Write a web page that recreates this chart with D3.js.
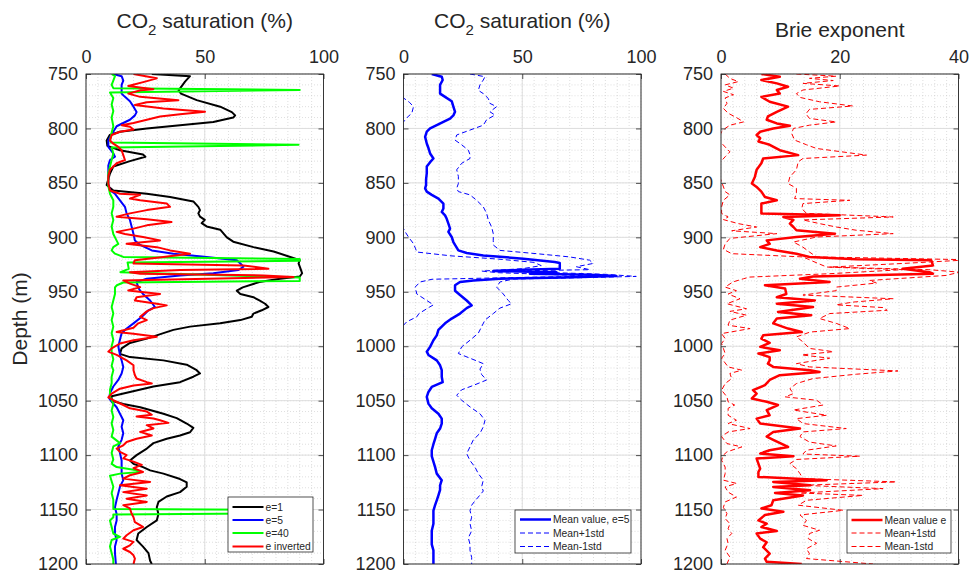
<!DOCTYPE html>
<html>
<head>
<meta charset="utf-8">
<script src="https://cdn.jsdelivr.net/npm/d3@7"></script>
<style>
    body { margin: 0; background: #fff; }
    svg { font-family: "Liberation Sans", Arial, Helvetica, sans-serif; }
</style>
</head>
<body>
<svg id="chart" width="969" height="575"></svg>
<script>
// ---- data (depth in m, values in % or exponent) ----
const depthTicks = [750, 800, 850, 900, 950, 1000, 1050, 1100, 1150, 1200];
const satTicks = [0, 50, 100];
const brieTicks = [0, 20, 40];

// panel 1: CO2 saturation for several exponents
const e1Depth = [750,752,757,765,768,774,780,785,788,790,794,797,800,803,806,811,816,820,824,826,830,835,842,852,857,860,863,867,872,875,878,881,884,887,890,893,900,904,909,913,918,921,924,928,933,936,938,941,946,949,952,955,958,961,964,967,970,973,976,979,982,985,988,993,997,1002,1007,1010,1013,1017,1022,1025,1028,1033,1037,1042,1046,1050,1053,1056,1062,1066,1071,1075,1079,1082,1085,1089,1094,1100,1105,1108,1111,1114,1117,1122,1125,1129,1134,1138,1143,1148,1154,1160,1166,1172,1178,1184,1190,1197,1200];
const e1Sat = [27.7,43.8,41.7,39,40,46.6,56.5,61.4,62.8,62,53.6,39.6,25.6,14.3,10,8.7,9,14.3,24,25,18.5,11.5,10,8.7,11.5,25.6,35.4,45.2,47.3,48,47.3,48,50,48.7,50.8,56.5,59.3,62,70.5,79,86,90,89.5,90.2,91,90,81.7,73,66,63.5,65,70.5,73,75.4,76.8,74,70.5,69.8,65,56.5,43.8,36.8,32.6,25.6,18.5,15,14.3,18.5,32.6,42.4,46.6,48,45.2,39.6,28.4,18.5,10.8,10.8,15.7,22.8,32.6,38.2,42.4,45.2,43.8,39.6,34,28.4,25.6,21.3,18.5,20,24,27,32.6,39.6,42.4,42.4,39.6,34,30.5,29.8,30.5,29.8,25.6,22,21.3,24,26.3,27,27.7];

const e5Depth = [750,752,756,760,765,768,771,775,780,785,788,792,795,798,803,808,811,817,823,826,829,834,840,846,851,857,860,866,872,878,884,890,897,903,907,912,915,918,921,924,927,930,933,935,938,941,946,949,952,958,964,967,973,979,984,988,994,1000,1008,1013,1019,1025,1031,1037,1043,1048,1051,1056,1062,1068,1074,1080,1086,1092,1098,1105,1111,1117,1123,1129,1135,1141,1148,1154,1160,1166,1172,1178,1184,1190,1200];
const e5Sat = [11.5,15,15.7,15,15,15,16.4,18.5,20,21.3,20.6,18.5,15.7,12.9,11.5,10.1,9.4,9.4,11.5,12.2,10.1,9.4,9.4,9.4,9.4,10.1,12.2,14.3,16.4,17.1,18.5,19.2,20,20.6,22.8,27.7,36.8,50.8,63.5,65,66.3,64.2,53.6,39.6,25.6,21.3,22,22.8,24,27,29,26.3,23.5,20,17,15,14.3,13.6,14.3,15,15.7,15,13.6,11.5,10.1,9.8,10.8,12.9,14.3,15.7,15,15.7,15,13.6,14.3,15,15,15,15.7,14.3,13.6,12.9,12.2,12.9,12.9,12.2,12.2,12.9,12.2,12.2,12.6];

const e40Depth = [750,752,756,760,763,764.7,767,772,778,784,790,798,804,811,813,815,817.5,823,829,835,841,847,853,860,866,872,878,884,890,897,903,906,909,912,915,918,920,921.5,923,929,932,937,940,941.5,944,946,952,958,964,970,976,982,988,994,1000,1006,1012,1018,1022,1028,1034,1040,1046,1053,1059,1065,1071,1077,1083,1089,1092,1098,1104,1108,1111,1114,1115.5,1117,1119,1124,1129,1135,1141,1148,1149.5,1150.5,1153.5,1154.5,1157,1160,1166,1172,1175,1178,1184,1190,1196,1200];
const e40Sat = [10.8,12.2,11.5,10.8,11.5,90,10.1,11.5,10.8,11.5,10.8,11.5,10.8,10.1,10.5,89.5,10.8,11.5,10.8,10.1,9.4,9.4,9.4,10.1,11.5,11.5,10.8,11.5,10.8,11.5,12.9,13.6,11.5,10.8,12.2,15.7,90,90,17.5,18,14.5,90,90,15.7,13,12.2,12.2,11.5,10.8,11.5,10.8,11.5,10.8,11.5,10.8,10.8,11.5,10.8,11.5,10.8,10.8,10.1,10.1,11.5,10.8,11.5,10.8,11.5,10.8,14.3,11.5,10.8,11.5,10.8,12.9,21.3,22.8,14.3,10.1,10.8,11.5,10.8,11.5,11.5,11.5,90,90,11.5,11.5,10.1,10.8,11.5,14.3,10.8,10.1,10.8,11.5,11.5];

const invDepth = [750,754,757,761,764,765,768,771,774,776,778.5,781.6,784.7,787,789,792,795,797,798.5,801,803,806,811,814,817,820,824.5,829,832,838,844,850.6,857,860,861,864.4,866,869,872,875,878,881,883.5,886,889,892,895,897,899.7,902.8,906,909,912,915,918,921,924,925.8,928.8,930,932,933.5,935,936.5,939.6,942.5,945.7,948.8,952,955,958,961,962.5,965,968,973,976,979,983,987,988.5,991.4,994.5,997.5,1002,1005,1008,1013,1017.5,1022,1026.6,1029.7,1033,1034.3,1036,1039,1043.5,1047,1049.6,1054,1057,1060,1063,1064.6,1066.3,1068,1070.4,1072.5,1075.5,1078.7,1082,1085,1088,1091,1094,1097,1100,1103,1106,1109,1112,1115.5,1118.5,1121.6,1124.6,1127.7,1130.8,1134,1137,1140,1143,1146,1149,1153.7,1157,1161.6,1166,1169,1173.6,1176.7,1179.7,1182.8,1186,1189,1192,1195,1200];
const invSat = [20,29.8,24.9,17.8,28.4,23,17.8,22.8,38.9,25.6,20.6,32.6,50.1,39.6,31.2,25.6,20,15,18.5,20,14.3,10.8,10.1,11.5,13.6,15,15.7,16.4,12.9,10.1,9.4,9.4,10.1,14.3,22.8,18.5,22.8,34,35.4,25.6,18.5,12.9,25.6,36,25.6,20,12.9,16.4,24,31.2,17.1,29.8,35.4,43.8,32.6,20.6,20,66.3,76.8,39.6,18.5,22.8,74.7,87.4,15.7,18.5,22.8,17.8,31.2,21.3,20.6,29.8,34,28.4,25.6,22.8,25.6,22,20,12.9,20,29.8,20,14.3,10.8,9.4,12.9,17.1,20,20,20.6,21.3,25.6,27.7,20,14.3,10.8,9.4,11.5,15.7,18.5,25.6,27.7,21.3,28.4,31.2,34.7,25.6,28.4,22.8,27.7,21.3,17.1,15.7,12.9,14.3,17.1,15.7,20,23.5,20,24,18.5,15.7,27,14.3,25.6,15.7,25.6,17.1,25.6,15.7,18.5,19.2,20,20.6,24,20,17.1,15.7,20,18.5,15.7,18.5,20,20.6,20];

// panel 2: mean saturation (e=5) and +/- one standard deviation
const meanDepth = [750,752.5,755.5,760,765,768,771,775,780,784.7,788,791,794,797,800,803,807.7,813.8,818,823,827.6,831,835,841,847,852,855,858,861,864.4,869,873.5,876.7,879.8,883,887.4,892,895,899.7,904.3,907,912,914.4,916.6,919.6,922.7,923.6,928.8,929.7,931,932,933.4,934.4,935.6,937,938,939.6,941,944,949,953,958,962.5,965,970,974.6,979,985,990,994.5,1000.6,1005,1008,1013,1017.5,1022,1028,1033,1037.4,1042,1046.5,1052.7,1057,1062,1066.5,1071,1075.6,1080,1085,1090,1095.5,1101,1106,1111,1117,1123,1127.7,1132,1136.9,1141.5,1146,1151,1157,1163,1169.5,1176,1182,1187.5,1194,1200];
const meanSat = [11.9,16.1,16.5,15.4,15.4,15.4,17.5,20.3,21,21.7,21,19.6,16.8,14,11.2,9.8,9.1,9.8,10.5,11.2,12.6,11.2,9.8,9.8,9.5,9.5,9.1,9.8,11.9,14.7,16.8,16.8,16.1,17.5,18.2,18.9,19.6,18.9,20.3,21,21.7,23.1,26.6,33.6,50.4,63.7,65.8,65.8,50.4,37.8,64.4,53.2,78.4,89.6,67.2,40.6,29.4,23.8,21.7,21.7,23.8,26.6,28.7,26.6,23.8,20.3,17.5,14.7,14,12.6,11.2,9.8,10.5,14,15.4,16.1,16.1,16.5,11.9,10.5,9.8,10.5,11.9,14.7,16.1,16.1,15.4,14,13.3,12.6,11.9,11.9,12.6,13.3,14,16.1,15.4,15.4,14.7,14,13.3,12.6,12.6,12.6,11.9,11.9,11.9,12.6,12.6,12.6];

const plusDepth = [750,752.5,755.5,760,765,768,772.5,777,780,784.7,787.7,792,797,801.5,806,810.7,815,820,824,827.6,832,838,844,850.6,855,858,861,866,872,878,884,890.5,896.6,902.8,907,912,915,918,921,924,927,929.7,931,932,934,935.9,937,938.3,941,945.7,952,958,961,965,970,976,982,988,994.5,1000.6,1006.7,1011,1016,1021,1026,1031,1036,1040,1045,1049.6,1055.7,1062,1068,1074,1080,1086,1092.5,1098.6,1105,1111,1117,1123,1129,1133,1138.5,1142,1146,1151,1157,1163,1169.5,1176,1182,1187.5,1194,1200];
const plusSat = [28,34.3,33.6,32.2,31.5,33.6,35.7,36.4,39.2,36.4,38.5,35,33.6,28,22.4,21.7,24.5,27.3,28,28,24.5,22.4,23.1,23.1,22.4,23.1,28,30.8,33.6,35,35.7,37.1,37.8,37.8,37.8,40.6,56,70,78.4,79.8,72.8,78.4,42,57.4,85.4,98,75.6,46.2,40.6,39.2,42,44.1,45.5,40.6,37.8,34.3,32.9,31.5,28,24.5,23.1,28,33.6,32.2,32.9,35,29.4,24.5,22.4,24.5,28,32.2,34.3,33.6,32.2,29.4,28,26.6,28,30.1,31.5,33.6,32.9,33.6,31.5,30.1,28.7,28,28.7,28,28.7,27.3,28,28,28.7,28.7];

const minusDepth = [750,760,766,772,776,780,786,790,794,800,810,820,830,840,850,860,866,870.5,876,882,887,892,896,899.7,905.8,910,913.5,917,920,923,926,928.8,931,932.5,934,935.6,937,938.5,941,945.7,952,958,962,964,970,973,977.5,980.7,986,994,1000,1010,1016,1022,1028,1034,1040,1050,1060,1070,1080,1090,1100,1110,1120,1130,1140,1150,1160,1170,1180,1190,1200];
const minusSat = [-4,-1.5,-1,0,2.5,4.2,3.5,1.5,0,-5,-3.5,-5,-2,-4,-4,-3,-1,0,-1,-0.5,-1,0,1,2.1,4.2,5,5.6,20,40,55,58,50,33,40,60,80,45,12,7,4.9,5.6,9.8,12.6,11,6.5,5.6,1.4,0,-1,-2.5,-2,-3,-1.5,0,0,-2,-3.5,-4,-3,-2.5,-4,-2.5,-3,-2.5,-2,-2.5,-2.5,-2.5,-3,-4.5,-4,-3,-3.4];

// panel 3: Brie exponent, mean and +/- one standard deviation
const brieDepth = [750,752.5,755.5,758.6,761.7,764.7,768,771,775.5,780,784.7,789,792,795.4,797.5,800,803,806,809,812,815,820,824.5,827.6,832,838,844.5,850.6,853.7,858,863,866,869,873.5,878,879.8,881.3,884,887.4,890.5,893.5,896.6,899.7,902.8,906,909,912,915,918,920.2,921,925.8,928.8,932,933.4,936,938,941,944,947,952,955,958,961,964,968.5,971.5,974.6,979,983.8,987,990,993,997,1000.6,1003.7,1006.7,1010,1013,1016,1019,1022,1023.6,1026.6,1031,1035.8,1040.4,1043.5,1048,1051,1054,1058.6,1063.4,1066.5,1071,1075.6,1078.7,1083,1086,1092.5,1095.5,1098.6,1101,1103.2,1107.8,1112.4,1115.5,1120,1123,1124.6,1127.7,1129.2,1132.3,1134.8,1137,1141.5,1146,1149,1152,1155,1160,1163,1166,1169.7,1172,1176.7,1180,1184.6,1190.5,1195,1198,1200];
const brieVal = [6.8,9.9,6.8,9.4,11.3,9.4,9.9,6.8,8.2,11.3,9.4,7.9,7.7,9.4,11.6,8.8,6.6,6,6.6,6.3,8.2,9.9,13,7.1,6.8,6,5.7,5.2,6,6.8,7.4,9.4,6.8,6.8,6.8,20,10.5,12.2,11.6,12.2,12.7,19.2,12.7,7.7,8.2,6.6,9.4,12.7,14.9,22.8,35.4,35.7,30.6,35.1,35.7,15.5,13.3,18.3,7.4,10.8,11,9.4,15.8,9.4,15.5,9.6,15.2,9.4,8.8,11.3,13.6,7.1,6.8,8.2,6.6,9.9,6.3,8.2,8.2,7.9,8.8,15,16.6,9.9,8.2,7.4,5.4,6,5.2,7.7,9.6,7.7,8.2,6,6.6,13.3,8.8,7.7,8.8,11.3,8.2,6.6,12.2,6,6.3,6.6,6.3,6.3,17.8,8.8,15,8.8,15,9.1,13.8,8.8,8.5,6.8,10.5,7.4,6.3,7.7,6.8,9.4,6,6.6,7.7,7.1,8.2,7.4,7.7,13.6];

const briePlusDepth = [750,752,754,756,758.6,761,764.7,768,771.5,775.5,779.4,782.5,786.6,790.8,794,797,800,804.6,810.7,815,818.4,824.5,827.6,830.7,838,844.5,850.6,855,859.5,864.4,866,869,873.5,878,881.3,884,887.4,890.5,893.5,896.6,899.7,904.3,909,913.5,918,920.6,924,927.3,929.7,932,935,939.6,942,945.7,949,953,956.4,959.5,962,964.5,967,970,974.6,979,983.8,987,991.4,996,1002,1005,1008,1011,1016,1019,1022.7,1025.7,1029.7,1034.3,1039,1043.5,1046.5,1049.6,1054,1058.6,1063.4,1066.5,1071,1075.6,1078.7,1083,1088,1091.6,1095.5,1099,1101,1104,1107.8,1112.4,1117,1121.6,1124.6,1127.7,1130.8,1134.8,1137,1141.5,1146,1150.7,1155,1160,1164.5,1169,1172,1176.7,1181,1186,1190.5,1195,1200];
const briePlusVal = [12.7,19.4,14.9,18.9,13.8,20,13.8,12.7,13.3,16.6,22.2,14.9,14.3,14.9,19.4,14.9,12.2,11.9,12.4,14.4,16.1,24.5,13.8,13,12.7,11.6,11.3,12.7,12.7,12.4,21.7,13.8,13.6,14.4,29,13.8,16.6,19.4,22.8,29,16.1,12.2,13.8,14.9,16.1,42,30.6,18.3,35,40.2,37.9,25,26.2,19.4,19.4,13.8,29,22.2,19.4,27.3,28,18.3,16.6,19.4,21.7,15,12.7,13.8,14.9,18.9,13.6,18.3,12.7,14.9,29.8,22.8,15.5,12.7,11.6,12.2,10.8,16.1,17.2,12.2,17.8,12.7,13.8,21.1,13.8,13.3,14.9,19.4,14.4,13.8,23.4,12.7,11.6,12.7,13.3,13.8,29.5,13.8,27.3,13.3,23.9,14.4,13,20.6,13.3,14.4,13.8,16.6,14.9,14.7,16.1,14.4,14.9,14.4,25.6];

const brieMinusDepth = [750,754,757,760,763,766,769,772,777,781.6,786,790,794,797,800,803,810,817,821.5,826,832,841,849,858,861,866,872,878,881.3,883.7,887.4,890.5,894,896.6,901,906,911,915,918,922,927.3,929.7,933.4,936.5,938,941,945.7,949,952,956.4,961,965.6,968,971.5,976,980.7,983.8,988.4,993,997.5,1002,1006.7,1011,1019,1022,1025,1029.7,1034.3,1040.4,1046.5,1051,1054,1057,1063.4,1068,1071,1075.6,1078.7,1083,1089.4,1092.5,1097,1100,1104.7,1111,1117,1123,1126,1129.2,1134,1138.5,1143,1148,1153.7,1158.3,1163,1167.6,1172,1176.7,1181,1187.4,1193.6,1200];
const brieMinusVal = [0.7,1.5,2.9,0.7,2.1,0.4,2.1,0.7,1,0.4,1.2,2.6,3.8,1.5,0.7,0.1,-0.5,0.7,1.5,0.7,-0.3,-0.5,0.1,0.7,1.5,0.4,0.1,0.1,1.2,0.4,2.9,6,1.8,9.4,1.5,0.7,0.4,1.8,13.8,15.5,17.8,30.6,18.3,4.8,3.8,2,0.7,2.6,1.2,3.2,1,4.3,1.5,4.3,1.5,1.2,4.9,0.1,0.7,0.1,0.4,0.7,0.1,1.2,3.5,1.5,1.8,0.7,0.1,1,1.2,2.3,1.2,1.2,2.6,1.2,4.9,1.2,0.1,1,3.5,1,0.4,0.1,0.7,0.7,0.4,2.6,0.7,1.2,2.6,0.7,0.4,1,0.7,1.5,1.2,1.8,1,1.2,0.7,1.5,1];

// ---- layout ----
const svg = d3.select("#chart");
const plotTop = 74, plotH = 490, plotW = 237.5;
const ink = "#262626";
const fmt = d3.format("d");

const y = d3.scaleLinear().domain([750, 1200]).range([plotTop, plotTop + plotH]);

function drawPanel(cfg) {
    const x = d3.scaleLinear().domain(cfg.domain).range([cfg.left, cfg.left + plotW]);
    const g = svg.append("g");

    // minor grid (dotted)
    g.selectAll(".minor-x").data(d3.range(cfg.domain[0], cfg.domain[1] + 0.001, cfg.minorStep))
        .enter().append("line")
        .attr("x1", d => x(d)).attr("x2", d => x(d))
        .attr("y1", plotTop).attr("y2", plotTop + plotH)
        .attr("stroke", "#c8c8c8").attr("stroke-width", 0.6).attr("stroke-dasharray", "1,2");
    g.selectAll(".minor-y").data(d3.range(750, 1201, 10))
        .enter().append("line")
        .attr("x1", cfg.left).attr("x2", cfg.left + plotW)
        .attr("y1", d => y(d)).attr("y2", d => y(d))
        .attr("stroke", "#c8c8c8").attr("stroke-width", 0.6).attr("stroke-dasharray", "1,2");

    // major grid
    g.selectAll(".major-x").data(cfg.ticks).enter().append("line")
        .attr("x1", d => x(d)).attr("x2", d => x(d))
        .attr("y1", plotTop).attr("y2", plotTop + plotH)
        .attr("stroke", "#dedede").attr("stroke-width", 1);
    g.selectAll(".major-y").data(depthTicks).enter().append("line")
        .attr("x1", cfg.left).attr("x2", cfg.left + plotW)
        .attr("y1", d => y(d)).attr("y2", d => y(d))
        .attr("stroke", "#dedede").attr("stroke-width", 1);

    // data, clipped to the axes box
    const clipId = "clip" + Math.round(cfg.left);
    svg.append("clipPath").attr("id", clipId).append("rect")
        .attr("x", cfg.left).attr("y", plotTop).attr("width", plotW).attr("height", plotH);

    const line = d3.line().x(d => x(d[1])).y(d => y(d[0]));
    const data = g.append("g").attr("clip-path", `url(#${clipId})`);
    cfg.series.forEach(s => {
        data.append("path")
            .datum(d3.zip(s.depth, s.values))
            .attr("d", line)
            .attr("fill", "none")
            .attr("stroke", s.color)
            .attr("stroke-width", s.width)
            .attr("stroke-linejoin", "round")
            .attr("stroke-dasharray", s.dash || null);
    });

    // axes: labels on top and left, ticks inside on all four sides
    const xTop = g.append("g").attr("transform", `translate(0,${plotTop})`)
        .call(d3.axisTop(x).tickValues(cfg.ticks).tickFormat(fmt).tickSize(-5).tickPadding(11));
    const xBottom = g.append("g").attr("transform", `translate(0,${plotTop + plotH})`)
        .call(d3.axisBottom(x).tickValues(cfg.ticks).tickSize(-5).tickFormat(""));
    const yLeft = g.append("g").attr("transform", `translate(${cfg.left},0)`)
        .call(d3.axisLeft(y).tickValues(depthTicks).tickFormat(fmt).tickSize(-5).tickPadding(8));
    const yRight = g.append("g").attr("transform", `translate(${cfg.left + plotW},0)`)
        .call(d3.axisRight(y).tickValues(depthTicks).tickSize(-5).tickFormat(""));

    [xTop, xBottom, yLeft, yRight].forEach(a => {
        a.select(".domain").remove();
        a.selectAll(".tick line").attr("stroke", ink).attr("stroke-width", 0.8);
        a.selectAll("text").attr("fill", ink).attr("font-size", "18px")
            .attr("font-family", "'Liberation Sans', Arial, sans-serif");
    });

    g.append("rect")
        .attr("x", cfg.left).attr("y", plotTop).attr("width", plotW).attr("height", plotH)
        .attr("fill", "none").attr("stroke", ink).attr("stroke-width", 0.9);

    // title
    const cx = cfg.left + plotW / 2;
    const t = g.append("text").attr("x", cx).attr("y", cfg.titleY)
        .attr("text-anchor", "middle").attr("fill", ink).attr("font-size", "21px");
    if (cfg.titleSub) {
        t.append("tspan").text("CO");
        t.append("tspan").attr("font-size", "15px").attr("dy", 7).text("2");
        t.append("tspan").attr("dy", -7).text(" saturation (%)");
    } else {
        t.text(cfg.title);
    }

    // legend
    const lg = cfg.legend;
    g.append("rect")
        .attr("x", lg.x).attr("y", lg.y).attr("width", lg.w).attr("height", lg.h)
        .attr("fill", "#fff").attr("stroke", ink).attr("stroke-width", 0.8);
    lg.items.forEach((it, i) => {
        const ry = lg.rows[i];
        g.append("line")
            .attr("x1", lg.x + lg.pad).attr("x2", lg.x + lg.pad + 31)
            .attr("y1", ry).attr("y2", ry)
            .attr("stroke", it.color).attr("stroke-width", it.width)
            .attr("stroke-dasharray", it.dash || null);
        g.append("text")
            .attr("x", lg.x + lg.pad + 33).attr("y", ry).attr("dy", "0.35em")
            .attr("fill", ink).attr("font-size", "10.3px")
            .text(it.label);
    });
}

const dash = "5,3";

drawPanel({
    left: 86, domain: [0, 100], ticks: satTicks, minorStep: 5,
    titleSub: true, titleY: 28,
    series: [
        {depth: e1Depth, values: e1Sat, color: "#000000", width: 2},
        {depth: e5Depth, values: e5Sat, color: "#0000ff", width: 2},
        {depth: e40Depth, values: e40Sat, color: "#00ff00", width: 2},
        {depth: invDepth, values: invSat, color: "#ff0000", width: 2}
    ],
    legend: {
        x: 228, y: 497, w: 85, h: 55, pad: 4.5, rows: [507, 520, 533, 546.5],
        items: [
            {label: "e=1", color: "#000000", width: 2},
            {label: "e=5", color: "#0000ff", width: 2},
            {label: "e=40", color: "#00ff00", width: 2},
            {label: "e inverted", color: "#ff0000", width: 2}
        ]
    }
});

drawPanel({
    left: 403.5, domain: [0, 100], ticks: satTicks, minorStep: 5,
    titleSub: true, titleY: 28,
    series: [
        {depth: minusDepth, values: minusSat, color: "#0000ff", width: 1, dash: dash},
        {depth: plusDepth, values: plusSat, color: "#0000ff", width: 1, dash: dash},
        {depth: meanDepth, values: meanSat, color: "#0000ff", width: 2.5}
    ],
    legend: {
        x: 515, y: 510, w: 116, h: 43, pad: 5, rows: [519.5, 533, 546.5],
        items: [
            {label: "Mean value, e=5", color: "#0000ff", width: 2.5},
            {label: "Mean+1std", color: "#0000ff", width: 1, dash: dash},
            {label: "Mean-1std", color: "#0000ff", width: 1, dash: dash}
        ]
    }
});

drawPanel({
    left: 721, domain: [0, 40], ticks: brieTicks, minorStep: 2,
    title: "Brie exponent", titleY: 36.5,
    series: [
        {depth: brieMinusDepth, values: brieMinusVal, color: "#ff0000", width: 1, dash: dash},
        {depth: briePlusDepth, values: briePlusVal, color: "#ff0000", width: 1, dash: dash},
        {depth: brieDepth, values: brieVal, color: "#ff0000", width: 2.5}
    ],
    legend: {
        x: 847, y: 510, w: 104, h: 43, pad: 4.5, rows: [520, 533, 546.5],
        items: [
            {label: "Mean value e", color: "#ff0000", width: 2.5},
            {label: "Mean+1std", color: "#ff0000", width: 1, dash: dash},
            {label: "Mean-1std", color: "#ff0000", width: 1, dash: dash}
        ]
    }
});

// shared depth label
svg.append("text")
    .attr("transform", "translate(27,319) rotate(-90)")
    .attr("text-anchor", "middle").attr("fill", ink).attr("font-size", "21px")
    .text("Depth (m)");
</script>
</body>
</html>
